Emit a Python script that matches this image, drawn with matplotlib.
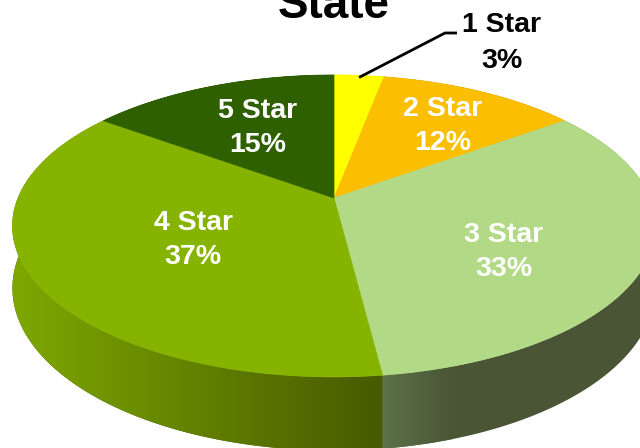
import numpy as np
import matplotlib
matplotlib.use("Agg")
import matplotlib.pyplot as plt
from matplotlib.patches import Polygon
from matplotlib.colors import LinearSegmentedColormap

# ---- data ----
categories = ["1 Star", "2 Star", "3 Star", "4 Star", "5 Star"]
values = [3, 12, 33, 37, 15]
title = "State"

# ---- style ----
top_colors = ["#FFFF00", "#FBBE00", "#B2DA86", "#86B300", "#2F6000"]
side_colors = [("#BFBF00", "#A0A000"), ("#C09000", "#A07800"),
               ("#5C7248", "#4A5536"), ("#7EA800", "#465A00"),
               ("#244800", "#1C3A00")]
label_colors = ["black", "white", "white", "white", "white"]
label_pos = [(502, 43), (443, 126), (504, 252), (193, 240), (258, 128)]

W, H = 640, 448
cx, cy = 334, 198
A, B, K = 316, 145.8, 0.185
DEPTH = 60

plt.rcParams['font.family'] = ['Liberation Sans', 'DejaVu Sans']
fig = plt.figure(figsize=(6.4, 4.48), dpi=100)
ax = fig.add_axes([0, 0, 1, 1])
ax.set_xlim(0, W)
ax.set_ylim(H, 0)
ax.axis("off")


def proj(theta_deg, depth=0.0):
    t = np.radians(theta_deg)
    u, v = np.sin(t), np.cos(t)
    s = 1.0 / (1.0 + K * v)
    return cx + A * u * s, cy - B * v * s + depth * s


total = float(sum(values))
bounds = np.concatenate([[0], np.cumsum(values)]) / total * 360.0

# sides first
for i in range(len(values)):
    th = np.linspace(bounds[i], bounds[i + 1], 200)
    xt, yt = proj(th)
    xb, yb = proj(th, DEPTH)
    pts = np.column_stack([np.concatenate([xt, xb[::-1]]),
                           np.concatenate([yt, yb[::-1]])])
    c0, c1 = side_colors[i]
    ax.add_patch(Polygon(pts, closed=True, facecolor=c1, edgecolor="none", zorder=0.9))
    poly = Polygon(pts, closed=True, facecolor="none", edgecolor="none")
    ax.add_patch(poly)
    cmap = LinearSegmentedColormap.from_list("s%d" % i, [c0, c1])
    x0, x1 = pts[:, 0].min(), pts[:, 0].max()
    if i == 2:
        x1 = min(x1, x0 + 70)
    grad = np.linspace(0, 1, 256).reshape(1, -1)
    im = ax.imshow(grad, cmap=cmap, aspect="auto",
                   extent=[x0, x1, pts[:, 1].max(), pts[:, 1].min()],
                   zorder=1)
    im.set_clip_path(poly)

# top faces
for i in range(len(values)):
    th = np.linspace(bounds[i], bounds[i + 1], 200)
    xt, yt = proj(th)
    pts = np.column_stack([np.concatenate([[cx], xt]), np.concatenate([[cy], yt])])
    ax.add_patch(Polygon(pts, closed=True, facecolor=top_colors[i],
                         edgecolor=top_colors[i], linewidth=0.5, zorder=3))

# labels
for i, (lab, val) in enumerate(zip(categories, values)):
    x, y = label_pos[i]
    ax.text(x, y, "%s\n%d%%" % (lab, val), color=label_colors[i],
            fontsize=20.5, fontweight="bold", ha="center", va="center",
            linespacing=1.45, zorder=5)

# leader line for 1 Star
mid = (bounds[0] + bounds[1]) / 2
lx, ly = proj(mid)
ax.plot([lx, 445, 457], [ly + 2, 33, 33], color="black", lw=2, zorder=6,
        solid_capstyle="butt")

ax.text(334, 18, title, fontsize=33, fontweight="bold", ha="center",
        va="baseline", color="black", zorder=6)

fig.savefig("out.png", dpi=100)
